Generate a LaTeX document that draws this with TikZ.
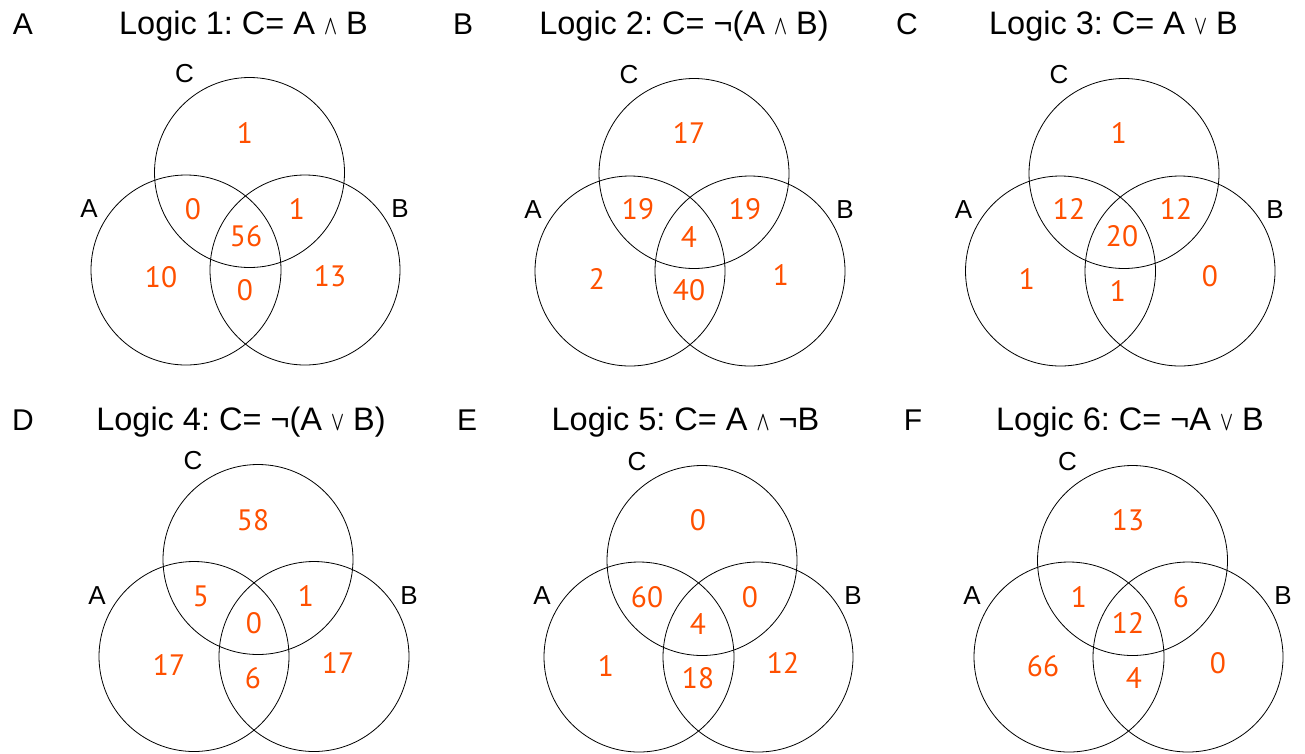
\documentclass[tikz,border=0pt]{standalone}
\usepackage{fontspec}
\setmainfont{Liberation Sans}
\newfontfamily\numfont{PT Sans}
\definecolor{countorange}{RGB}{255,80,0}
\newcommand{\lwedge}{\resizebox{13pt}{15pt}{\boldmath$\wedge$}}
\newcommand{\lvee}{\resizebox{13pt}{15pt}{\boldmath$\vee$}}
\frenchspacing

\begin{document}
\begin{tikzpicture}[x=1pt, y=-1pt,
    set/.style={circle, draw, line width=0.8pt, inner sep=0pt, minimum size=190pt},
    setname/.style={font=\fontsize{26}{26}\selectfont, inner sep=0pt},
    count/.style={font=\numfont\fontsize{29.5}{29.5}\selectfont, text=countorange, inner sep=0pt},
    title/.style={anchor=base, font=\fontsize{32.5}{32.5}\selectfont, inner sep=0pt},
    tag/.style={anchor=base, font=\fontsize{30}{30}\selectfont, inner sep=0pt}]
        \useasboundingbox (0,0) rectangle (1305,753);
        % Panel A: Logic 1
            \node[tag] (p1) at (23, 34.5) {A};
            \node[title] (t1) at (243.5, 34.5) {Logic 1: C= A \lwedge\ B};
            \node[set] (c1) at (249.5, 172.5) {};
            \node[set] (a1) at (186, 270) {};
            \node[set] (b1) at (305, 270) {};
            \node[setname] (lc1) at ([shift={(-65,-99)}]c1.center) {C};
            \node[setname] (la1) at ([shift={(-97,-61)}]a1.center) {A};
            \node[setname] (lb1) at ([shift={(95,-61)}]b1.center) {B};
            \node[count] (n1c)   at (245, 133) {1};
            \node[count] (n1ac)  at (193, 209) {0};
            \node[count] (n1bc)  at (297, 209) {1};
            \node[count] (n1abc) at (246, 236) {56};
            \node[count] (n1a)   at (161, 277) {10};
            \node[count] (n1ab)  at (245, 290) {0};
            \node[count] (n1b)   at (330, 276) {13};
        % Panel B: Logic 2
            \node[tag] (p2) at (463, 34.5) {B};
            \node[title] (t2) at (684, 34.5) {Logic 2: C= ¬(A \lwedge\ B)};
            \node[set] (c2) at (694, 173.5) {};
            \node[set] (a2) at (630, 271) {};
            \node[set] (b2) at (750, 271) {};
            \node[setname] (lc2) at ([shift={(-65,-99)}]c2.center) {C};
            \node[setname] (la2) at ([shift={(-97,-61)}]a2.center) {A};
            \node[setname] (lb2) at ([shift={(95,-61)}]b2.center) {B};
            \node[count] (n2c)   at (689, 133) {17};
            \node[count] (n2ac)  at (638, 209) {19};
            \node[count] (n2bc)  at (745, 209) {19};
            \node[count] (n2abc) at (689, 237) {4};
            \node[count] (n2a)   at (597, 279) {2};
            \node[count] (n2ab)  at (689, 290) {40};
            \node[count] (n2b)   at (781, 275) {1};
        % Panel C: Logic 3
            \node[tag] (p3) at (907, 34.5) {C};
            \node[title] (t3) at (1113.5, 34.5) {Logic 3: C= A \lvee\ B};
            \node[set] (c3) at (1124, 173.5) {};
            \node[set] (a3) at (1060.5, 271) {};
            \node[set] (b3) at (1180, 271) {};
            \node[setname] (lc3) at ([shift={(-65,-99)}]c3.center) {C};
            \node[setname] (la3) at ([shift={(-97,-61)}]a3.center) {A};
            \node[setname] (lb3) at ([shift={(95,-61)}]b3.center) {B};
            \node[count] (n3c)   at (1119, 133) {1};
            \node[count] (n3ac)  at (1069, 209) {12};
            \node[count] (n3bc)  at (1176, 209) {12};
            \node[count] (n3abc) at (1122, 236) {20};
            \node[count] (n3a)   at (1027, 279) {1};
            \node[count] (n3ab)  at (1118, 291) {1};
            \node[count] (n3b)   at (1210, 276) {0};
        % Panel D: Logic 4
            \node[tag] (p4) at (23, 430.5) {D};
            \node[title] (t4) at (241, 430.5) {Logic 4: C= ¬(A \lvee\ B)};
            \node[set] (c4) at (258, 559.5) {};
            \node[set] (a4) at (194, 656.5) {};
            \node[set] (b4) at (314, 656.5) {};
            \node[setname] (lc4) at ([shift={(-65,-99)}]c4.center) {C};
            \node[setname] (la4) at ([shift={(-97,-61)}]a4.center) {A};
            \node[setname] (lb4) at ([shift={(95,-61)}]b4.center) {B};
            \node[count] (n4c)   at (253, 520) {58};
            \node[count] (n4ac)  at (201, 596) {5};
            \node[count] (n4bc)  at (306, 596) {1};
            \node[count] (n4abc) at (254, 623) {0};
            \node[count] (n4a)   at (169, 665) {17};
            \node[count] (n4ab)  at (253, 678) {6};
            \node[count] (n4b)   at (338, 663) {17};
        % Panel E: Logic 5
            \node[tag] (p5) at (467, 430.5) {E};
            \node[title] (t5) at (685.5, 430.5) {Logic 5: C= A \lwedge\ ¬B};
            \node[set] (c5) at (702, 560.5) {};
            \node[set] (a5) at (639, 657) {};
            \node[set] (b5) at (758, 657) {};
            \node[setname] (lc5) at ([shift={(-65,-99)}]c5.center) {C};
            \node[setname] (la5) at ([shift={(-97,-61)}]a5.center) {A};
            \node[setname] (lb5) at ([shift={(95,-61)}]b5.center) {B};
            \node[count] (n5c)   at (698, 520) {0};
            \node[count] (n5ac)  at (647, 597) {60};
            \node[count] (n5bc)  at (750, 597) {0};
            \node[count] (n5abc) at (698, 624) {4};
            \node[count] (n5a)   at (606, 666) {1};
            \node[count] (n5ab)  at (698, 678) {18};
            \node[count] (n5b)   at (783, 663) {12};
        % Panel F: Logic 6
            \node[tag] (p6) at (913, 430.5) {F};
            \node[title] (t6) at (1130, 430.5) {Logic 6: C= ¬A \lvee\ B};
            \node[set] (c6) at (1132.5, 560.5) {};
            \node[set] (a6) at (1069, 657) {};
            \node[set] (b6) at (1188, 657) {};
            \node[setname] (lc6) at ([shift={(-65,-99)}]c6.center) {C};
            \node[setname] (la6) at ([shift={(-97,-61)}]a6.center) {A};
            \node[setname] (lb6) at ([shift={(95,-61)}]b6.center) {B};
            \node[count] (n6c)   at (1128, 520) {13};
            \node[count] (n6ac)  at (1079, 597) {1};
            \node[count] (n6bc)  at (1181, 597) {6};
            \node[count] (n6abc) at (1128, 623) {12};
            \node[count] (n6a)   at (1043, 666) {66};
            \node[count] (n6ab)  at (1134, 678) {4};
            \node[count] (n6b)   at (1218, 663) {0};
        \end{tikzpicture}
\end{document}
